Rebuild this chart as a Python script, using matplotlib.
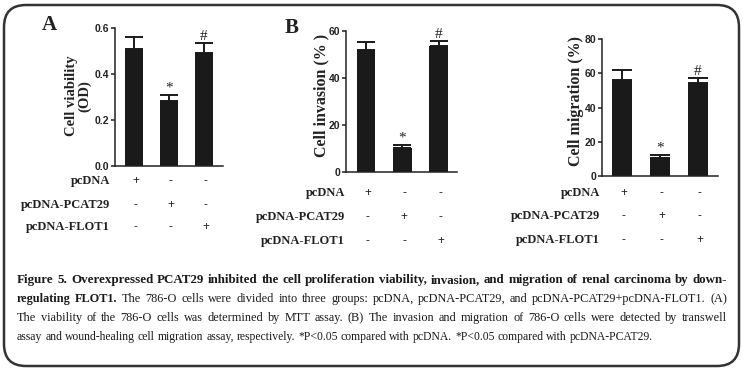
import numpy as np
import matplotlib
matplotlib.use("Agg")
import matplotlib.pyplot as plt
from matplotlib.patches import FancyBboxPatch
from matplotlib.transforms import IdentityTransform, blended_transform_factory

# Datos
grupos = ["pcDNA", "pcDNA-PCAT29", "pcDNA-FLOT1"]
signos = [["+", "-", "-"],
          ["-", "+", "-"],
          ["-", "-", "+"]]
marcas = ["", "*", "#"]

viabilidad = [0.51, 0.283, 0.493]
viabilidad_err = [0.053, 0.026, 0.040]

invasion = [51.9, 10.3, 53.7]
invasion_err = [3.4, 1.2, 2.0]

migracion = [56.1, 10.3, 54.1]
migracion_err = [5.8, 2.0, 2.9]

W, H = 743, 371
SERIF = "Liberation Serif"
SANS = "Liberation Sans"


def px(x, y):
    """Pixel (origen arriba) -> fraccion de figura."""
    return x / W, 1 - y / H


def panel(fig, caja, valores, errores, ymax, yticks, fmt, xlim, ancho,
          ylabel, ylabel_xy, ylabel_size, filas_y, filas_x):
    x0, x1, ytop, ybot = caja
    ax = fig.add_axes([x0 / W, 1 - ybot / H, (x1 - x0) / W, (ybot - ytop) / H])
    pos = np.arange(len(valores))
    ax.bar(pos, valores, width=ancho, color="#1a1a1a", zorder=2)
    ax.errorbar(pos, valores, yerr=[np.zeros(len(errores)), errores],
                fmt="none", ecolor="#1a1a1a", elinewidth=1.4,
                capsize=ancho * 13, capthick=1.4, zorder=1)
    ax.set_xlim(*xlim)
    ax.set_ylim(0, ymax)
    ax.set_yticks(yticks)
    ax.set_yticklabels([fmt.format(v) for v in yticks],
                       fontfamily=SANS, fontweight="bold", fontsize=7.5)
    ax.set_xticks([])
    for lado in ["top", "right"]:
        ax.spines[lado].set_visible(False)
    for lado in ["left", "bottom"]:
        ax.spines[lado].set_linewidth(1.1)
        ax.spines[lado].set_color("#222222")
    ax.tick_params(axis="y", length=3, width=1.1, pad=1, colors="#222222")

    # * y # sobre las barras
    for i, m in enumerate(marcas):
        if m:
            ax.text(i, valores[i] + errores[i], m,
                    ha="center", va="bottom", fontfamily=SERIF,
                    fontsize=11, color="#222222")

    fig.text(*px(*ylabel_xy), ylabel, rotation=90, ha="center", va="center",
             fontfamily=SERIF, fontweight="bold", fontsize=ylabel_size,
             color="#222222", linespacing=1.0)

    trans = blended_transform_factory(ax.transData, fig.transFigure)
    for fila, nombre in enumerate(grupos):
        yf = 1 - filas_y[fila] / H
        fig.text(filas_x / W, yf, nombre, ha="right", va="center",
                 fontfamily=SERIF, fontweight="bold", fontsize=9,
                 color="#222222")
        for i, s in enumerate(signos[fila]):
            ax.text(i + 0.05, yf, s, transform=trans, ha="center",
                    va="center", fontfamily=SANS, fontsize=8.5,
                    color="#222222", clip_on=False)
    return ax


def linea_justificada(fig, renderer, palabras, y, x0, x1, justificar=True,
                      size=8.4):
    while True:
        textos = []
        for palabra, peso in palabras:
            t = fig.text(0, 0, palabra, transform=IdentityTransform(),
                         fontfamily=SERIF, fontweight=peso, fontsize=size,
                         va="baseline", ha="left", color="#1a1a1a")
            textos.append(t)
        anchos = [t.get_window_extent(renderer).width for t in textos]
        espacio_min = size * 100 / 72 * 0.22
        natural = sum(anchos) + espacio_min * (len(textos) - 1)
        if natural <= x1 - x0 or size < 6:
            break
        for t in textos:
            t.remove()
        size -= 0.1
    espacio = size * 100 / 72 * 0.25
    if justificar and len(textos) > 1:
        espacio = (x1 - x0 - sum(anchos)) / (len(textos) - 1)
    x = x0
    for t, a in zip(textos, anchos):
        t.set_position((x, H - y))
        x += a + espacio


fig = plt.figure(figsize=(W / 100, H / 100), dpi=100)

# Marco redondeado
fig.patches.append(FancyBboxPatch((4, 5), 735, 361,
                                  boxstyle="round,pad=0,rounding_size=22",
                                  transform=IdentityTransform(),
                                  facecolor="none", edgecolor="#333333",
                                  linewidth=1.8))

panel(fig, (115, 223, 28, 166), viabilidad, viabilidad_err, 0.6,
      [0.0, 0.2, 0.4, 0.6], "{:.1f}", (-0.543, 2.543), 0.52,
      "Cell viability\n(OD)", (78, 96), 10.5, [181, 205, 227], 110)
panel(fig, (346, 457, 31, 172), invasion, invasion_err, 60,
      [0, 20, 40, 60], "{:.0f}", (-0.55, 2.5), 0.52,
      "Cell invasion (% )", (321, 95), 11.5, [193, 217, 241], 345)
panel(fig, (602, 718, 39, 176), migracion, migracion_err, 80,
      [0, 20, 40, 60, 80], "{:.0f}", (-0.526, 2.526), 0.55,
      "Cell migration (%)", (576, 101), 11.5, [193, 216, 240], 600)

fig.text(*px(49, 25), "A", ha="center", va="center", fontfamily=SERIF,
         fontweight="bold", fontsize=15, color="#222222")
fig.text(*px(292, 28), "B", ha="center", va="center", fontfamily=SERIF,
         fontweight="bold", fontsize=15, color="#222222")

# Pie de figura
renderer = fig.canvas.get_renderer()
B, N = "bold", "normal"
lineas = [
    [(w, B) for w in ("Figure 5. Overexpressed PCAT29 inhibited the cell "
                      "proliferation viability, invasion, and migration of "
                      "renal carcinoma by down-").split()],
    [(w, B) for w in "regulating FLOT1.".split()]
    + [(w, N) for w in ("The 786-O cells were divided into three groups: "
                        "pcDNA, pcDNA-PCAT29, and pcDNA-PCAT29+pcDNA-FLOT1. "
                        "(A)").split()],
    [(w, N) for w in ("The viability of the 786-O cells was determined by MTT "
                      "assay. (B) The invasion and migration of 786-O cells "
                      "were detected by transwell").split()],
    [(w, N) for w in ("assay and wound-healing cell migration assay, "
                      "respectively. *P<0.05 compared with pcDNA. *P<0.05 "
                      "compared with pcDNA-PCAT29.").split()],
]
bases = [283, 302, 321, 340]
tamanos = [9.4, 8.8, 8.8, 8.4]
for i, (pal, yb, tam) in enumerate(zip(lineas, bases, tamanos)):
    linea_justificada(fig, renderer, pal, yb, 17, 727,
                      justificar=(i < len(lineas) - 1), size=tam)

fig.savefig("out.png", dpi=100)
